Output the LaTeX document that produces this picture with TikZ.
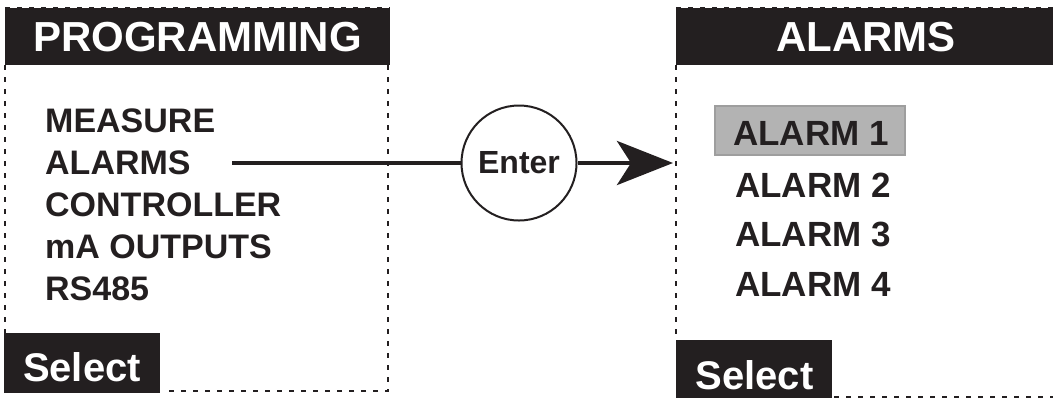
\documentclass[tikz,border=0pt]{standalone}
\usepackage{fontspec}
\setmainfont{Liberation Sans}
\usetikzlibrary{arrows.meta}
\definecolor{ink}{HTML}{231F20}
\definecolor{hl}{HTML}{B3B3B3}
\definecolor{hlb}{HTML}{9E9E9E}
\tikzset{
  frame/.style={draw=ink, line width=2.4bp, dash pattern=on 5bp off 7bp},
  bar/.style={fill=ink, draw=none},
  head/.style={text=white, font=\bfseries\fontsize{42bp}{48bp}\selectfont, inner sep=0pt},
  seltxt/.style={text=white, font=\bfseries\fontsize{40bp}{46bp}\selectfont, inner sep=0pt},
  item/.style={text=ink, font=\bfseries\fontsize{34bp}{40bp}\selectfont, inner sep=0pt, anchor=base west},
  alarm/.style={text=ink, font=\bfseries\fontsize{35bp}{40bp}\selectfont, inner sep=0pt, anchor=base west},
}
\begin{document}
\begin{tikzpicture}[x=1bp,y=-1bp]
\useasboundingbox (0,0) rectangle (1053,398);
% left panel frame
\draw[frame] (5,65) -- (5,333);
\draw[frame] (388,65) -- (388,391) -- (162,391);
\draw[frame] (5,8) -- (390,8);
\fill[bar] (5,8) rectangle (390,65);
\node[head] (ph) at (197.5,37) {PROGRAMMING};
\fill[bar] (4,333) rectangle (160,393);
\node[seltxt] (ls) at (82,367) {Select};
% menu
\node[item] (m1) at (45,132) {MEASURE};
\node[item] (m2) at (45,174) {ALARMS};
\node[item] (m3) at (45,216) {CONTROLLER};
\node[item] (m4) at (45,258) {mA OUTPUTS};
\node[item] (m5) at (45,300) {RS485};
% right panel frame
\draw[frame] (676,65) -- (676,340);
\draw[frame] (834,397) -- (1053,397);
\draw[frame] (676,8) -- (1053,8);
\fill[bar] (676,8) rectangle (1053,65);
\node[head] (ah) at (866,37) {ALARMS};
\fill[bar] (676,340) rectangle (832,398);
\node[seltxt] (rs) at (754.5,375) {Select};
% alarm list
\fill[hl] (715,106) rectangle (905,155);
\draw[hlb, line width=1.5bp] (715,106) rectangle (905,155);
\node[alarm] (a1) at (733,145) {ALARM 1};
\node[alarm] (a2) at (735,197) {ALARM 2};
\node[alarm] (a3) at (735,246) {ALARM 3};
\node[alarm] (a4) at (735,296) {ALARM 4};
% connector
\coordinate (s) at (232,163);
\coordinate (t) at (673,163);
\node[circle, draw=ink, line width=2bp, minimum size=115bp, inner sep=0pt, fill=white,
      text=ink, font=\bfseries\fontsize{32bp}{36bp}\selectfont] (en) at (519,163) {Enter};
\draw[ink, line width=4.5bp] (s) -- (en.west);
\draw[ink, line width=4.5bp, -{Stealth[length=56bp, width=44bp, inset=14bp]}] (en.east) -- (t);
\end{tikzpicture}
\end{document}
